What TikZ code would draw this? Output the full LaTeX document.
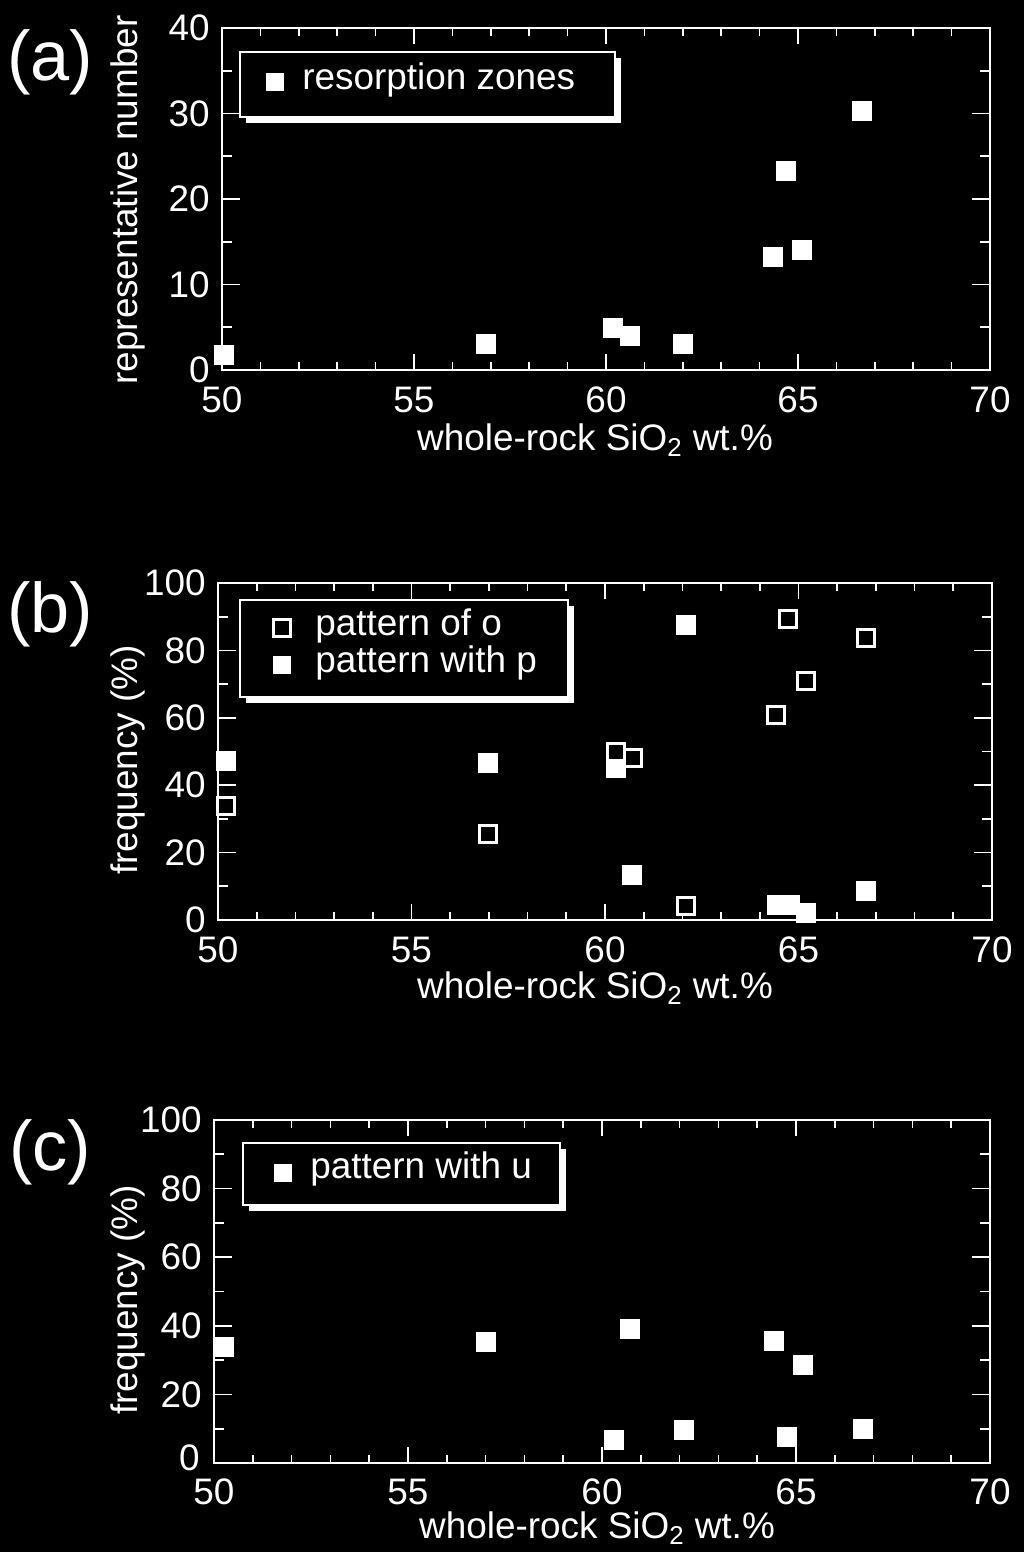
\documentclass[tikz,border=0pt]{standalone}
\usepackage{fontspec}
\setmainfont{Liberation Sans}
\begin{document}
\begin{tikzpicture}[x=0.02cm,y=-0.02cm,
  lab/.style={text=white,font=\fontsize{21}{22}\selectfont,inner sep=0},
  plab/.style={text=white,font=\fontsize{40}{42}\selectfont,inner sep=0},
  fsq/.style={fill=white,minimum size=0.4cm,inner sep=0,draw=none},
  osq/.style={fill=black,draw=white,line width=1.2pt,minimum size=0.34cm,inner sep=0},
  ax/.style={draw=white,line width=1.5pt},
  legbox/.style={draw=white,line width=1.5pt,fill=black}]
\fill[black] (0,0) rectangle (1024,1552);
% ---------- panel a ----------
\draw[ax] (222,28) rectangle (990,370);
\foreach \i in {0,...,20}{\pgfmathsetmacro\xx{222+38.4*\i}
  \draw[white,line width=1pt] (\xx,370) -- (\xx,362) (\xx,28) -- (\xx,36);}
\foreach \i in {0,5,...,20}{\pgfmathsetmacro\xx{222+38.4*\i}
  \draw[white,line width=1pt] (\xx,370) -- (\xx,354) (\xx,28) -- (\xx,44);}
\foreach \j in {0,...,8}{\pgfmathsetmacro\yy{370-42.75*\j}
  \draw[white,line width=1pt] (222,\yy) -- (232,\yy) (990,\yy) -- (980,\yy);}
\foreach \v/\j in {0/0,10/2,20/4,30/6,40/8}{\pgfmathsetmacro\yy{370-42.75*\j}
  \draw[white,line width=1pt] (222,\yy) -- (240,\yy) (990,\yy) -- (972,\yy);
  \node[lab,anchor=east] (ya\v) at (210,\yy) {\v};}
\foreach \v/\i in {50/0,55/5,60/10,65/15,70/20}{\pgfmathsetmacro\xx{222+38.4*\i}
  \node[lab] (xa\v) at (\xx,400) {\v};}
\node[lab] (xla) at (595,440) {whole-rock SiO\textsubscript{2} wt.\%};
\node[lab,rotate=90] (yla) at (128,200) {representative number};
\node[plab] (pa) at (50,62) {(a)};
\fill[white] (246,58) rectangle (621,123);
\draw[legbox] (240,52) rectangle (615,117);
\node[fsq,minimum size=0.36cm] (la) at (275,82) {};
\node[lab,anchor=west] (lat) at (302,80) {resorption zones};
\foreach \p/\x/\y in {a1/224/355,a2/486/344,a3/613/328,a4/630/336,a5/683/344,a6/773/257,a7/786/171,a8/802/250,a9/862/111}
  \node[fsq] (\p) at (\x,\y) {};
% ---------- panel b ----------
\draw[ax] (218,583) rectangle (992,920);
\foreach \i in {0,...,20}{\pgfmathsetmacro\xx{218+38.7*\i}
  \draw[white,line width=1pt] (\xx,920) -- (\xx,912) (\xx,583) -- (\xx,591);}
\foreach \i in {0,5,...,20}{\pgfmathsetmacro\xx{218+38.7*\i}
  \draw[white,line width=1pt] (\xx,920) -- (\xx,904) (\xx,583) -- (\xx,599);}
\foreach \j in {0,...,10}{\pgfmathsetmacro\yy{920-33.7*\j}
  \draw[white,line width=1pt] (218,\yy) -- (228,\yy) (992,\yy) -- (982,\yy);}
\foreach \v/\j in {0/0,20/2,40/4,60/6,80/8,100/10}{\pgfmathsetmacro\yy{920-33.7*\j}
  \draw[white,line width=1pt] (218,\yy) -- (236,\yy) (992,\yy) -- (974,\yy);
  \node[lab,anchor=east] (yb\v) at (206,\yy) {\v};}
\foreach \v/\i in {50/0,55/5,60/10,65/15,70/20}{\pgfmathsetmacro\xx{218+38.7*\i}
  \node[lab] (xb\v) at (\xx,950) {\v};}
\node[lab] (xlb) at (595,988) {whole-rock SiO\textsubscript{2} wt.\%};
\node[lab,rotate=90] (ylb) at (128,760) {frequency (\%)};
\node[plab] (pb) at (50,614) {(b)};
\fill[white] (246,606) rectangle (574,703);
\draw[legbox] (240,600) rectangle (568,697);
\node[osq] (lb1) at (282,628) {};
\node[fsq,minimum size=0.36cm] (lb2) at (282,665) {};
\node[lab,anchor=west] (lbt1) at (315,626) {pattern of o};
\node[lab,anchor=west] (lbt2) at (315,663) {pattern with p};
\foreach \p/\x/\y in {bf1/226/761,bf2/488/763,bf3/616/768,bf4/632/875,bf5/686/625,bf6/777/905,bf7/790/905,bf8/806/913,bf9/866/891}
  \node[fsq] (\p) at (\x,\y) {};
\foreach \p/\x/\y in {bo1/226/806,bo2/488/834,bo3/616/752,bo4/633/758,bo5/686/906,bo6/776/715,bo7/788/619,bo8/806/681,bo9/866/638}
  \node[osq] (\p) at (\x,\y) {};
% ---------- panel c ----------
\draw[ax] (214,1120) rectangle (990,1463);
\foreach \i in {0,...,20}{\pgfmathsetmacro\xx{214+38.8*\i}
  \draw[white,line width=1pt] (\xx,1463) -- (\xx,1455) (\xx,1120) -- (\xx,1128);}
\foreach \i in {0,5,...,20}{\pgfmathsetmacro\xx{214+38.8*\i}
  \draw[white,line width=1pt] (\xx,1463) -- (\xx,1447) (\xx,1120) -- (\xx,1136);}
\foreach \j in {0,...,10}{\pgfmathsetmacro\yy{1463-34.3*\j}
  \draw[white,line width=1pt] (214,\yy) -- (224,\yy) (990,\yy) -- (980,\yy);}
\foreach \v/\j in {20/2,40/4,60/6,80/8,100/10}{\pgfmathsetmacro\yy{1463-34.3*\j}
  \node[lab,anchor=east] (yc\v) at (202,\yy) {\v};}
\foreach \j in {0,2,...,10}{\pgfmathsetmacro\yy{1463-34.3*\j}
  \draw[white,line width=1pt] (214,\yy) -- (232,\yy) (990,\yy) -- (972,\yy);}
\node[lab,anchor=east] (yc0) at (200,1458) {0};
\foreach \v/\i in {50/0,55/5,60/10,65/15,70/20}{\pgfmathsetmacro\xx{214+38.8*\i}
  \node[lab] (xc\v) at (\xx,1492) {\v};}
\node[lab] (xlc) at (597,1528) {whole-rock SiO\textsubscript{2} wt.\%};
\node[lab,rotate=90] (ylc) at (128,1300) {frequency (\%)};
\node[plab] (pc) at (50,1152) {(c)};
\fill[white] (249,1149) rectangle (566,1211);
\draw[legbox] (243,1143) rectangle (560,1205);
\node[fsq,minimum size=0.36cm] (lc) at (283,1173) {};
\node[lab,anchor=west] (lct) at (310,1169) {pattern with u};
\foreach \p/\x/\y in {c1/224/1347,c2/486/1342,c3/614/1440,c4/630/1329,c5/684/1430,c6/774/1341,c7/787/1437,c8/803/1365,c9/863/1429}
  \node[fsq] (\p) at (\x,\y) {};
\end{tikzpicture}
\end{document}
